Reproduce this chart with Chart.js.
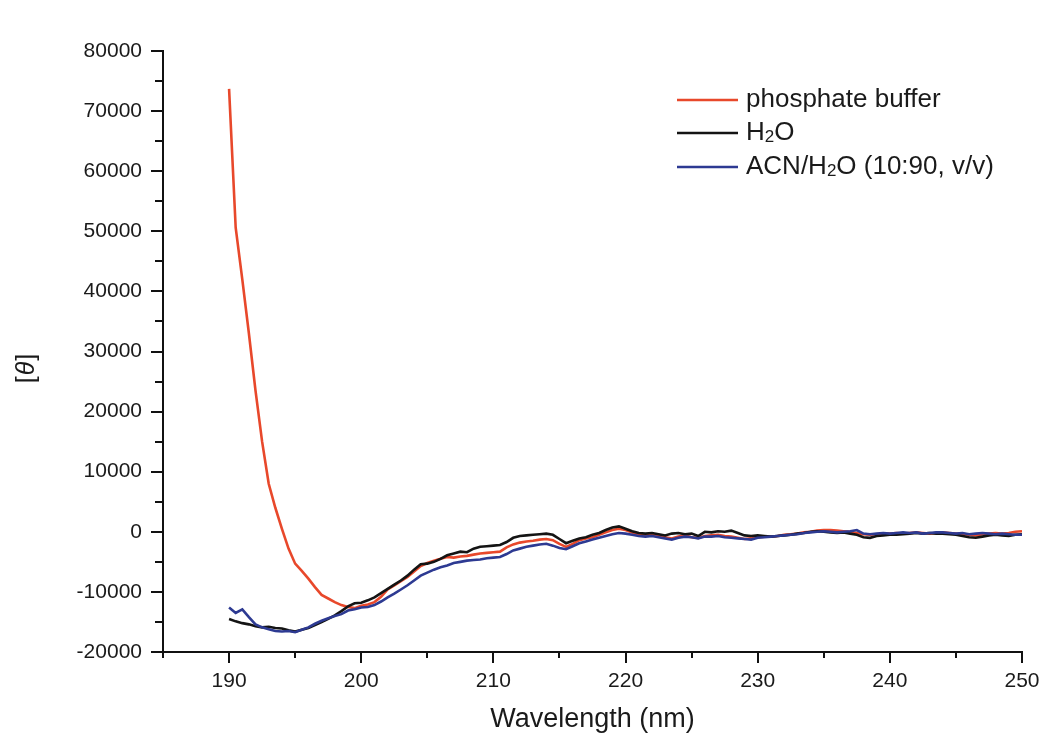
<!DOCTYPE html>
<html lang="en">
<head>
<meta charset="utf-8">
<title>CD spectra</title>
<script src="https://cdn.jsdelivr.net/npm/chart.js@4.4.1/dist/chart.umd.min.js"></script>
<style>
  html, body { margin: 0; padding: 0; background: #fff; }
  #wrap { width: 1046px; height: 738px; }
</style>
</head>
<body>
<div id="wrap"><canvas id="grafico" width="1046" height="738"></canvas></div>
<script>
// Comprimentos de onda (nm), passo de 0.5
const comprimentos = [];
for (let w = 190; w <= 250; w += 0.5) comprimentos.push(w);

// Elipticidade molar [θ]
const tampaoFosfato = [
  73700, 50600, 42000, 33000, 23500, 15000, 8000, 4000, 500, -2800,
  -5300, -6500, -7800, -9200, -10500, -11100, -11700, -12200, -12500, -12700,
  -12300, -12100, -11700, -10800, -9600, -8900, -8200, -7500, -6600, -5700,
  -5200, -4800, -4500, -4200, -4300, -4100, -4000, -3800, -3600, -3500,
  -3400, -3300, -2600, -2100, -1800, -1600, -1500, -1300, -1200, -1400,
  -2000, -2500, -2000, -1400, -1100, -900, -500, -100, 300, 500,
  300, -100, -400, -600, -500, -700, -900, -1100, -800, -600,
  -900, -1000, -700, -600, -500, -700, -800, -1000, -1200, -1100,
  -900, -800, -800, -700, -500, -400, -300, -100, 0, 200,
  300, 300, 200, 100, 0, -200, -400, -500, -400, -300,
  -300, -200, -300, -200, -100, -200, -300, -200, -100, -200,
  -300, -400, -500, -600, -400, -300, -200, -300, -200, 0,
  100
];

const agua = [
  -14500, -14900, -15200, -15400, -15700, -15900, -15800, -16000, -16100, -16400,
  -16600, -16300, -16000, -15500, -15000, -14500, -13900, -13200, -12400, -11900,
  -11800, -11400, -10900, -10200, -9500, -8800, -8100, -7300, -6300, -5400,
  -5300, -5000, -4500, -3900, -3600, -3300, -3400, -2800, -2500, -2400,
  -2300, -2200, -1700, -1000, -700, -600, -500, -400, -300, -500,
  -1200, -1900, -1500, -1100, -900, -500, -200, 300, 700, 900,
  500, 100, -200, -300, -200, -400, -600, -300, -200, -400,
  -300, -700, 0, -100, 100, 0, 200, -200, -600, -700,
  -600, -700, -800, -700, -600, -500, -300, -200, 0, 100,
  0, -100, -200, -100, -300, -500, -900, -1000, -700, -600,
  -500, -500, -400, -300, -200, -300, -200, -300, -300, -400,
  -500, -700, -900, -1000, -800, -600, -500, -600, -700, -500,
  -400
];

const acnAgua = [
  -12600, -13500, -12900, -14200, -15400, -15900, -16200, -16500, -16600, -16500,
  -16700, -16300, -15900, -15300, -14800, -14400, -14000, -13700, -13100, -12900,
  -12600, -12500, -12200, -11600, -10900, -10300, -9600, -8900, -8100, -7300,
  -6800, -6300, -5900, -5600, -5200, -5000, -4800, -4700, -4600, -4400,
  -4300, -4200, -3700, -3100, -2800, -2500, -2300, -2100, -2000, -2300,
  -2700, -2900, -2400, -1900, -1600, -1300, -1000, -700, -400, -200,
  -300, -500, -700, -800, -700, -900, -1100, -1300, -1000, -800,
  -900, -1100, -800, -800, -700, -900, -1000, -1100, -1200, -1300,
  -1000, -900, -800, -700, -600, -500, -400, -200, -100, 0,
  100, 0, -100, 0, 100, 300, -300, -400, -300, -200,
  -300, -200, -100, -200, -100, -300, -200, -100, -100, -200,
  -300, -200, -400, -300, -200, -300, -400, -300, -400, -500,
  -500
];

// Legendas (partes com subscrito marcadas)
const rotulos = [
  [['phosphate buffer', false]],
  [['H', false], ['2', true], ['O', false]],
  [['ACN/H', false], ['2', true], ['O (10:90, v/v)', false]]
];
const cores = ['#e8482b', '#141414', '#2d3a92'];

const FONTE = "'Liberation Sans', Arial, Helvetica, sans-serif";

function pontos(valores) {
  return comprimentos.map((w, i) => ({ x: w, y: valores[i] }));
}

// Plugin: marcas dos eixos, legenda interna e título do eixo y
const extras = {
  id: 'extras',
  afterDraw(chart) {
    const ctx = chart.ctx;
    const area = chart.chartArea;
    const sx = chart.scales.x;
    const sy = chart.scales.y;
    ctx.save();
    ctx.strokeStyle = '#111';
    ctx.lineWidth = 2;
    ctx.beginPath();
    for (let v = -20000; v <= 80000; v += 5000) {
      const y = Math.round(sy.getPixelForValue(v));
      const len = v % 10000 === 0 ? 12 : 8;
      ctx.moveTo(area.left, y);
      ctx.lineTo(area.left - len, y);
    }
    for (let v = 185; v <= 250; v += 5) {
      const x = Math.round(sx.getPixelForValue(v));
      const len = v % 10 === 0 ? 11 : 6;
      ctx.moveTo(x, area.bottom);
      ctx.lineTo(x, area.bottom + len);
    }
    ctx.stroke();

    // legenda
    const ys = [100, 133, 167];
    ctx.lineWidth = 2.5;
    rotulos.forEach((partes, i) => {
      ctx.strokeStyle = cores[i];
      ctx.beginPath();
      ctx.moveTo(677, ys[i]);
      ctx.lineTo(738, ys[i]);
      ctx.stroke();
      let x = 746;
      ctx.fillStyle = '#1a1a1a';
      ctx.textBaseline = 'middle';
      partes.forEach(([txt, sub]) => {
        ctx.font = (sub ? '17px ' : '26px ') + FONTE;
        ctx.fillText(txt, x, ys[i] + (sub ? 4 : 0));
        x += ctx.measureText(txt).width;
      });
    });

    // título do eixo y: [θ]
    ctx.translate(27, 368);
    ctx.rotate(-Math.PI / 2);
    ctx.textBaseline = 'middle';
    const pedacos = [['[', ''], ['θ', 'italic '], [']', '']];
    let total = 0;
    pedacos.forEach(([t, s]) => { ctx.font = s + '25px ' + FONTE; total += ctx.measureText(t).width + 1; });
    let px = -total / 2;
    pedacos.forEach(([t, s]) => {
      ctx.font = s + '25px ' + FONTE;
      ctx.fillText(t, px, 0);
      px += ctx.measureText(t).width + 1;
    });
    ctx.restore();
  }
};

const serie = (label, dados, cor, ordem) => ({
  label: label,
  data: pontos(dados),
  borderColor: cor,
  borderWidth: 2.6,
  pointRadius: 0,
  tension: 0,
  fill: false,
  order: ordem
});

new Chart(document.getElementById('grafico'), {
  type: 'line',
  data: {
    datasets: [
      serie('phosphate buffer', tampaoFosfato, cores[0], 3),
      serie('H2O', agua, cores[1], 2),
      serie('ACN/H2O (10:90, v/v)', acnAgua, cores[2], 1)
    ]
  },
  options: {
    responsive: false,
    animation: false,
    layout: { padding: { top: 51, right: 24, left: 0, bottom: 0 } },
    plugins: {
      legend: { display: false },
      tooltip: { enabled: false }
    },
    scales: {
      x: {
        type: 'linear',
        min: 185,
        max: 250,
        afterFit: s => { s.height = 86; },
        border: { display: true, color: '#111', width: 2 },
        grid: { drawOnChartArea: false, drawTicks: true, tickLength: 11, color: 'rgba(0,0,0,0)' },
        ticks: {
          stepSize: 10,
          padding: 6,
          color: '#1a1a1a',
          font: { family: FONTE, size: 21 },
          callback: v => (v % 10 === 0 ? String(v) : '')
        },
        title: {
          display: true,
          text: 'Wavelength (nm)',
          color: '#1a1a1a',
          font: { family: FONTE, size: 27 },
          padding: { top: 0, bottom: 2 }
        }
      },
      y: {
        type: 'linear',
        min: -20000,
        max: 80000,
        afterFit: s => { s.width = 163; },
        border: { display: true, color: '#111', width: 2 },
        grid: { drawOnChartArea: false, drawTicks: true, tickLength: 12, color: 'rgba(0,0,0,0)' },
        ticks: {
          stepSize: 10000,
          padding: 9,
          color: '#1a1a1a',
          font: { family: FONTE, size: 21 },
          callback: v => String(v)
        }
      }
    }
  },
  plugins: [extras]
});
</script>
</body>
</html>
